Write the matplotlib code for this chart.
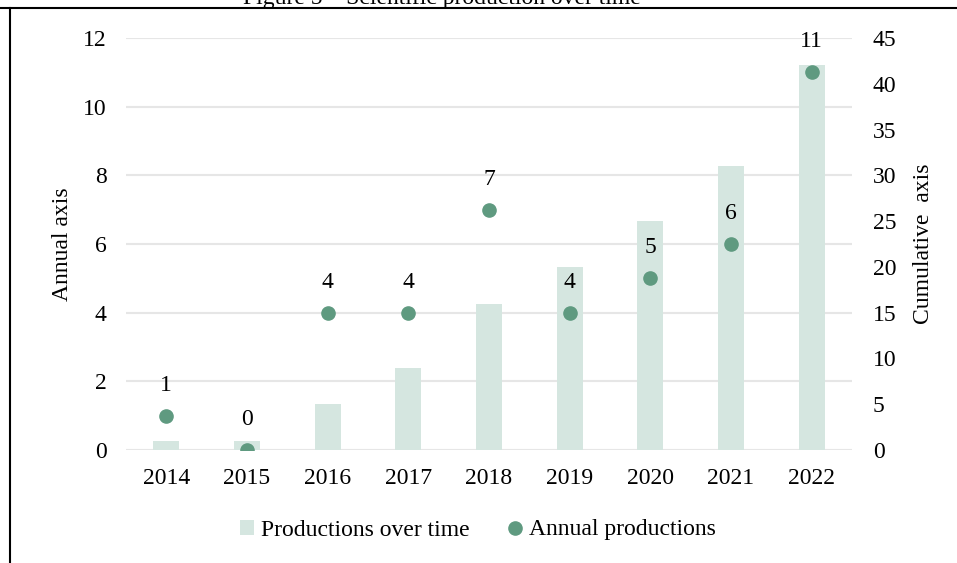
import matplotlib
matplotlib.use('Agg')
import matplotlib.pyplot as plt
import numpy as np
from matplotlib.lines import Line2D

plt.rcParams['font.family'] = ['Liberation Serif', 'DejaVu Serif']
plt.rcParams['font.size'] = 17

years = ['2014', '2015', '2016', '2017', '2018', '2019', '2020', '2021', '2022']
annual = [1, 0, 4, 4, 7, 4, 5, 6, 11]
cumulative = [1, 1, 5, 9, 16, 20, 25, 31, 42]

bar_color = '#d5e6e0'
dot_color = '#5f9a80'
grid_color = '#e6e6e6'

x = np.arange(len(years))

fig = plt.figure(figsize=(9.57, 5.63), dpi=100)

# base axes: left scale, grid and tick labels
ax = fig.add_axes([126/957, 113/563, 726/957, 412/563])
ax.set_xlim(-0.5, len(years) - 0.5)
ax.set_ylim(0, 12)
ax.set_yticks(np.arange(0, 13, 2))
ax.set_xticks(x)
ax.set_xticklabels(years)
ax.grid(axis='y', color=grid_color, linewidth=1.5)
ax.tick_params(axis='both', length=0)
ax.tick_params(axis='y', pad=14)
ax.tick_params(axis='x', pad=13)
for s in ax.spines.values():
    s.set_visible(False)
ax.set_ylabel('Annual axis', labelpad=7)

# cumulative bars on the right scale
ax2 = ax.twinx()
ax2.bar(x, cumulative, width=0.32, color=bar_color, label='Productions over time')
ax2.set_ylim(0, 45)
ax2.set_yticks(np.arange(0, 46, 5))
ax2.tick_params(axis='y', length=0, pad=15)
for s in ax2.spines.values():
    s.set_visible(False)
ax2.set_ylabel('Cumulative  axis', rotation=90, labelpad=12)

# annual dots on top, sharing the left scale
ax3 = fig.add_axes(ax.get_position(), sharex=ax, sharey=ax)
ax3.set_axis_off()
ax3.plot(x, annual, 'o', color=dot_color, markersize=9.5, label='Annual productions')
for xi, v in zip(x, annual):
    ax3.annotate(str(v), (xi, v), xytext=(0, 22), textcoords='offset points',
                 ha='center', va='center', clip_on=False)

handles = [ax2.patches[0], ax3.lines[0]]
fig.legend(handles, ['Productions over time', 'Annual productions'],
           loc='center', bbox_to_anchor=(478/957, 1 - 530/563), ncol=2,
           frameon=False, handlelength=0.6, handleheight=0.6,
           handletextpad=0.3, columnspacing=1.6, borderaxespad=0)

# page frame and clipped caption above it
fig.add_artist(Line2D([0, 1], [1 - 8/563, 1 - 8/563], color='black', linewidth=1.5))
fig.add_artist(Line2D([9.5/957, 9.5/957], [0, 1 - 8/563], color='black', linewidth=1.5))
fig.text(442/957, 1 - 4/563, 'Figure 5 \u2013 Scientific production over time',
         ha='center', va='baseline', fontsize=17)

fig.savefig('out.png', dpi=100)
